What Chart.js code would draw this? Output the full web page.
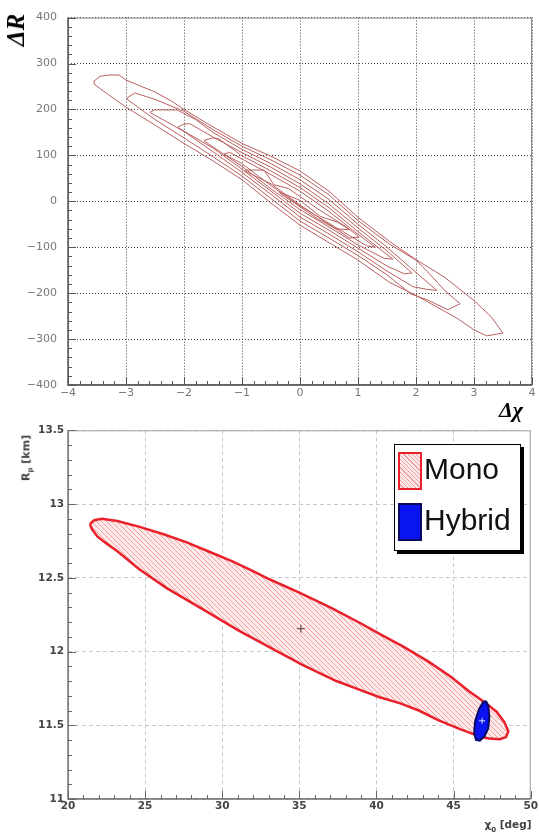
<!DOCTYPE html>
<html>
<head>
<meta charset="utf-8">
<script src="https://cdn.jsdelivr.net/npm/chart.js@4/dist/chart.umd.min.js"></script>
<style>
  body { margin: 0; background: #fff; width: 539px; height: 834px; position: relative; overflow: hidden; }
  canvas { position: absolute; left: 0; }
  #top { top: 0; }
  #bot { top: 420px; }
  .lbl { position: absolute; white-space: nowrap; transform: translate(-50%, -50%); }
  .serif { font-family: "Liberation Serif", "DejaVu Serif", serif; font-weight: bold; font-style: italic; color: #000; }
  .sans { font-family: "DejaVu Sans", sans-serif; font-weight: bold; color: #444; }
  #legend { position: absolute; left: 394px; top: 444px; width: 125px; height: 105px; border: 1px solid #000;
            background: #fff; box-shadow: 3px 3px 0 #000; font-family: "Liberation Sans", Arial, sans-serif; }
  .sw { position: absolute; left: 3px; width: 20px; height: 34px; }
  .lt { position: absolute; left: 29px; font-size: 30px; line-height: 30px; color: #111; }
</style>
</head>
<body>
<canvas id="top" width="539" height="420"></canvas>
<canvas id="bot" width="539" height="414"></canvas>

<div class="lbl serif" style="left:16px;top:30px;font-size:25px;transform:translate(-50%,-50%) rotate(-90deg)">&Delta;R</div>
<div class="lbl serif" style="left:511px;top:410px;font-size:22px">&Delta;&chi;</div>
<div class="lbl sans" style="left:27px;top:458px;font-size:11px;transform:translate(-50%,-50%) rotate(-90deg)">R<sub style="font-size:7px">p</sub> [km]</div>
<div class="lbl sans" style="left:508px;top:826px;font-size:10.5px">&chi;<sub style="font-size:7px">0</sub> [deg]</div>

<div id="legend">
  <div class="sw" id="swMono" style="top:7px"></div>
  <div class="lt" id="ltMono" style="top:9px"></div>
  <div class="sw" id="swHyb" style="top:58px"></div>
  <div class="lt" id="ltHyb" style="top:60px"></div>
</div>

<script>
// ---------- top panel: contour levels of (Δχ, ΔR) ----------
const X_TICKS_TOP = [-4, 4, 1];      // min, max, step
const Y_TICKS_TOP = [-400, 400, 100];

const LEVEL_1 = [[-3.55,262],[-3.45,272],[-3.3,275],[-3.12,275],[-3.0,264],[-2.5,238],[-2.2,217],[-2.0,200],[-1.5,162],[-1.0,126],[-0.5,98],[0,66],[0.5,22],[1.0,-35],[1.55,-88],[2.0,-127],[2.5,-166],[3.0,-216],[3.3,-252],[3.5,-287],[3.22,-293],[3.0,-280],[2.7,-254],[2.5,-240],[2.0,-205],[1.55,-177],[1.0,-128],[0.5,-90],[0,-52],[-0.5,-4],[-1.0,47],[-1.5,88],[-2.0,126],[-2.5,166],[-3.0,205],[-3.3,232],[-3.55,255],[-3.55,262]];
const LEVEL_2 = [[-2.98,225],[-2.85,236],[-2.5,222],[-2.0,196],[-1.5,156],[-1.0,120],[-0.5,90],[0,57],[0.5,14],[1.0,-42],[1.55,-94],[2.0,-128],[2.24,-159],[2.5,-195],[2.76,-223],[2.55,-236],[2.2,-215],[1.9,-201],[1.5,-160],[1.0,-118],[0.5,-80],[0,-43],[-0.5,6],[-1.0,55],[-1.5,97],[-2.0,138],[-2.5,178],[-2.98,222],[-2.98,225]];
const LEVEL_3 = [[-2.58,195],[-2.5,199],[-2.12,199],[-1.8,178],[-1.5,150],[-1.0,113],[-0.5,82],[0,47],[0.5,4],[1.0,-50],[1.5,-100],[2.0,-155],[2.36,-194],[2.2,-192],[1.95,-186],[1.5,-152],[1.0,-110],[0.5,-71],[0,-34],[-0.5,15],[-1.0,63],[-1.5,108],[-2.0,152],[-2.58,193],[-2.58,195]];
const LEVEL_4 = [[-2.1,162],[-2.0,168],[-1.9,169],[-1.5,140],[-1.0,106],[-0.5,74],[0,38],[0.5,-6],[1.0,-58],[1.5,-108],[1.93,-156],[1.8,-158],[1.5,-141],[1.0,-102],[0.5,-63],[0,-26],[-0.5,22],[-1.0,70],[-1.5,116],[-2.1,160],[-2.1,162]];
const LEVEL_5 = [[-1.65,133],[-1.5,138],[-1.4,136],[-1.0,99],[-0.5,66],[0,30],[0.5,-14],[1.0,-66],[1.6,-126],[1.45,-124],[1.0,-95],[0.5,-56],[0,-18],[-0.5,27],[-1.0,76],[-1.65,131],[-1.65,133]];
const LEVEL_6 = [[-1.3,104],[-1.2,106],[-1.0,92],[-0.5,58],[0,22],[0.5,-22],[1.0,-72],[1.3,-100],[1.15,-97],[0.5,-48],[0,-10],[-0.5,34],[-1.0,82],[-1.3,102],[-1.3,104]];
const LEVEL_7 = [[-0.95,68],[-0.62,68],[-0.45,36],[-0.2,28],[0.3,-16],[0.8,-56],[1.02,-78],[0.85,-80],[0.5,-50],[0,-8],[-0.5,38],[-0.95,66],[-0.95,68]];
const LEVEL_8 = [[-0.35,20],[0.0,2],[0.35,-33],[0.64,-45],[0.86,-62],[0.62,-60],[0.3,-38],[0,-12],[-0.35,18],[-0.35,20]];
const LEVELS = [LEVEL_1, LEVEL_2, LEVEL_3, LEVEL_4, LEVEL_5, LEVEL_6, LEVEL_7, LEVEL_8];

// ---------- bottom panel: (χ0, Rp) error ellipses ----------
const SERIES = ["Mono", "Hybrid"];
const X_TICKS_BOT = [20, 50, 5];
const Y_TICKS_BOT = [11, 13.5, 0.5];
const MONO = [[21.42,12.865],[21.7,12.89],[22.2,12.90],[23.2,12.885],[24.65,12.845],[26.2,12.795],[27.7,12.74],[29.2,12.675],[30.7,12.61],[32.0,12.545],[33.06,12.49],[35.0,12.40],[37.0,12.30],[39.0,12.19],[40.2,12.12],[41.8,12.03],[43.4,11.93],[44.8,11.83],[46.0,11.73],[47.1,11.65],[47.8,11.59],[48.3,11.52],[48.55,11.46],[48.4,11.42],[48.0,11.405],[47.3,11.41],[46.8,11.42],[45.5,11.47],[44.0,11.535],[42.75,11.60],[41.5,11.65],[40.2,11.69],[38.8,11.745],[37.4,11.80],[35.2,11.91],[33.06,12.03],[31.1,12.14],[29.0,12.27],[26.4,12.43],[24.6,12.56],[23.2,12.68],[22.4,12.74],[21.9,12.78],[21.55,12.83],[21.42,12.865]];
const HYBRID = [[47.1,11.665],[47.25,11.63],[47.32,11.56],[47.25,11.48],[47.0,11.425],[46.7,11.395],[46.45,11.40],[46.33,11.45],[46.4,11.53],[46.65,11.61],[46.9,11.655],[47.1,11.665]];
const MONO_BEST = [35.1, 12.155];
const HYBRID_BEST = [46.85, 11.53];

const pts = (a) => a.map(([x, y]) => ({ x, y }));

/* frame + inward ticks, like the ROOT style of the original */
const frameTicks = {
  id: "frameTicks",
  afterDatasetsDraw(chart, args, o) {
    const { ctx, chartArea: a, scales: { x, y } } = chart;
    ctx.save();
    ctx.strokeStyle = o.frame; ctx.lineWidth = 1;
    ctx.strokeRect(a.left + 0.5, a.top + 0.5, a.width - 1, a.height - 1);
    ctx.strokeStyle = o.axis; ctx.lineWidth = o.axisWidth;
    ctx.beginPath();
    ctx.moveTo(a.left, a.top); ctx.lineTo(a.left, a.bottom); ctx.lineTo(a.right, a.bottom);
    ctx.stroke();
    ctx.lineWidth = 1; ctx.strokeStyle = o.tick;
    ctx.beginPath();
    const run = (sc, minor, major, draw) => {
      const n = Math.round((sc.max - sc.min) / minor);
      for (let i = 0; i <= n; i++) {
        const v = sc.min + i * minor;
        const r = v / major;
        const big = Math.abs(r - Math.round(r)) < 1e-6;
        draw(Math.round(sc.getPixelForValue(v)) + 0.5, big ? o.majorLen : o.minorLen);
      }
    };
    run(x, o.xMinor, o.xMajor, (p, l) => { ctx.moveTo(p, a.bottom); ctx.lineTo(p, a.bottom - l); });
    run(y, o.yMinor, o.yMajor, (p, l) => { ctx.moveTo(a.left, p); ctx.lineTo(a.left + l, p); });
    ctx.stroke();
    ctx.restore();
  },
};

function axis(t, grid, dash, font, color, pad, fit, cb) {
  return {
    type: "linear", min: t[0], max: t[1],
    ticks: { stepSize: t[2], font, color, padding: pad, autoSkip: false, maxRotation: 0, callback: cb },
    grid: { color: grid, drawTicks: false, lineWidth: 1 },
    border: { display: false, dash },
    afterFit: fit,
  };
}

const minus = (v) => (v < 0 ? "\u2212" + Math.abs(v) : String(v));

/* ---------- top chart ---------- */
const topFont = { family: "DejaVu Sans", size: 11 };
new Chart(document.getElementById("top"), {
  type: "scatter",
  data: {
    datasets: LEVELS.map((lv) => ({
      data: pts(lv), showLine: true, fill: false, tension: 0,
      borderColor: "#b9605f", borderWidth: 1, pointRadius: 0,
    })),
  },
  options: {
    animation: false, responsive: false,
    layout: { padding: { left: 0, top: 12, right: 7, bottom: 0 } },
    plugins: {
      legend: { display: false }, tooltip: { enabled: false },
      frameTicks: { frame: "#8a8a8a", axis: "#555", axisWidth: 1.5, tick: "#555",
                    xMinor: 0.2, xMajor: 1, yMinor: 20, yMajor: 100, majorLen: 8, minorLen: 4 },
    },
    scales: {
      x: axis(X_TICKS_TOP, "#444", [1, 2], topFont, "#777", 2, (s) => { s.height = 35; }, minus),
      y: axis(Y_TICKS_TOP, "#444", [1, 2], topFont, "#777", 11, (s) => { s.width = 68; }, minus),
    },
  },
  plugins: [frameTicks],
});

/* ---------- bottom chart ---------- */
function hatch(bg, line) {
  const c = document.createElement("canvas");
  c.width = 5; c.height = 5;
  const g = c.getContext("2d");
  g.fillStyle = bg; g.fillRect(0, 0, 5, 5);
  g.strokeStyle = line; g.lineWidth = 0.8;
  g.beginPath();
  g.moveTo(-1, -1); g.lineTo(6, 6);
  g.moveTo(-1, 4); g.lineTo(1, 6);
  g.moveTo(4, -1); g.lineTo(6, 1);
  g.stroke();
  return g.createPattern(c, "repeat");
}
const botCtx = document.getElementById("bot").getContext("2d");
const monoFill = hatch("#fdeaea", "#f08c8c");

const botFont = { family: "DejaVu Sans", size: 10.5, weight: "bold" };
new Chart(botCtx, {
  type: "scatter",
  data: {
    datasets: [
      { label: SERIES[0], data: pts(MONO), showLine: true, fill: "shape", tension: 0,
        backgroundColor: monoFill, borderColor: "#e8212b", borderWidth: 2.5, pointRadius: 0, order: 3 },
      { label: SERIES[1], data: pts(HYBRID), showLine: true, fill: "shape", tension: 0,
        backgroundColor: "#0a14f0", borderColor: "#0a0a60", borderWidth: 2, pointRadius: 0, order: 2 },
      { data: pts([MONO_BEST]), pointStyle: "cross", pointRadius: 4, borderColor: "#5a3a3a",
        borderWidth: 1, order: 1 },
      { data: pts([HYBRID_BEST]), pointStyle: "cross", pointRadius: 3, borderColor: "#d8e0ff",
        borderWidth: 1, order: 0 },
    ],
  },
  options: {
    animation: false, responsive: false,
    layout: { padding: { left: 0, top: 9, right: 7, bottom: 0 } },
    plugins: {
      legend: { display: false }, tooltip: { enabled: false },
      frameTicks: { frame: "#a0a0a0", axis: "#777", axisWidth: 1.5, tick: "#666",
                    xMinor: 1, xMajor: 5, yMinor: 0.1, yMajor: 0.5, majorLen: 8, minorLen: 4 },
    },
    scales: {
      x: axis(X_TICKS_BOT, "#c8c8c8", [4, 3], botFont, "#444", 1, (s) => { s.height = 35; }, (v) => String(v)),
      y: axis(Y_TICKS_BOT, "#c8c8c8", [4, 3], botFont, "#444", 4, (s) => { s.width = 68; }, (v) => String(+v.toFixed(2))),
    },
  },
  plugins: [frameTicks],
});

/* legend */
document.getElementById("ltMono").textContent = SERIES[0];
document.getElementById("ltHyb").textContent = SERIES[1];
const swM = document.getElementById("swMono");
swM.style.cssText += ";border:2px solid #e8212b;background:repeating-linear-gradient(45deg,#fdeaea 0 2px,#f0a0a0 2px 3px)";
const swH = document.getElementById("swHyb");
swH.style.cssText += ";border:2px solid #0a0a60;background:#0a14f0";
</script>
</body>
</html>
